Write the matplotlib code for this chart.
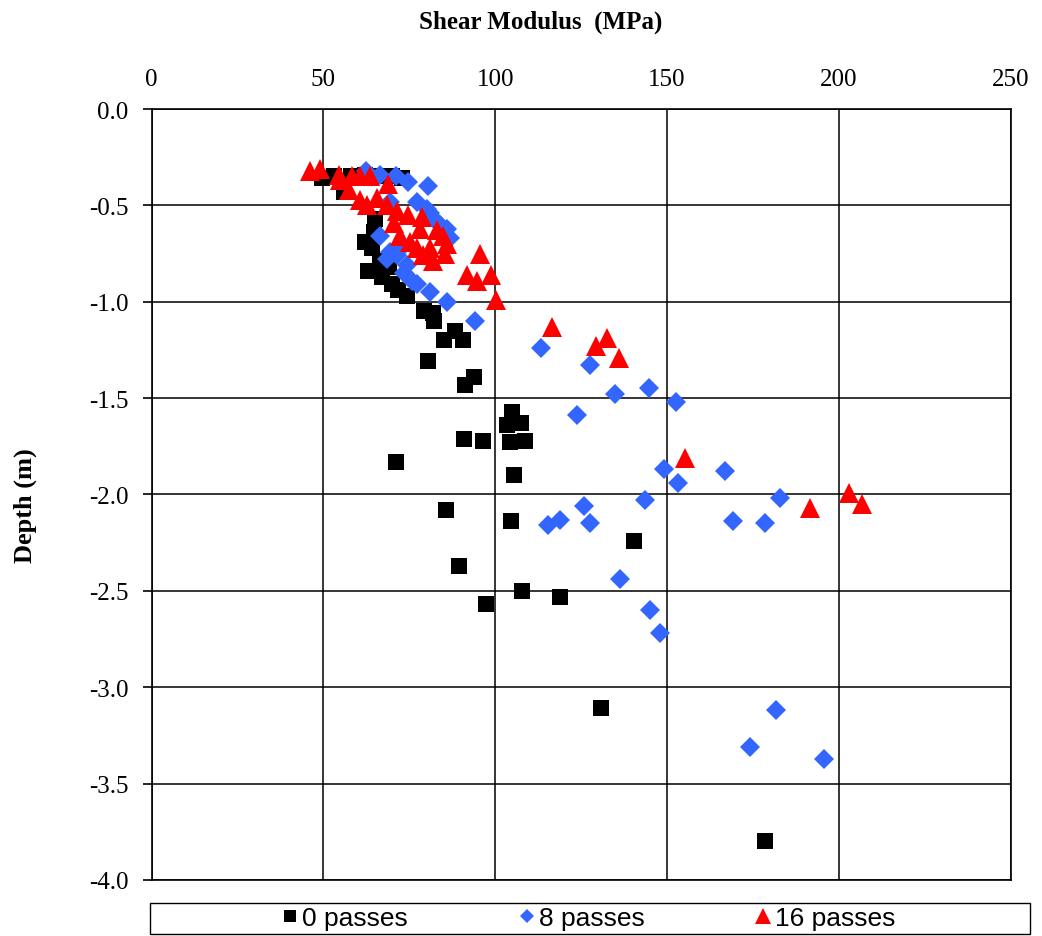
import matplotlib
matplotlib.use("Agg")
import matplotlib.pyplot as plt
from matplotlib.patches import Rectangle

# ---- data ------------------------------------------------------------------
g0_x = [49.5, 53, 58, 62, 66, 70, 73, 55.9, 65, 64.6, 62.1, 64.1, 63.1, 67.0,
        69.9, 71.8, 74.2, 79.4, 81.8, 82.3, 88.4, 85.2, 90.7, 80.3, 93.9, 91.3,
        104.9, 103.5, 107.5, 104.2, 108.6, 90.8, 96.5, 71.0, 105.4, 85.6, 104.6,
        140.3, 89.4, 97.3, 107.8, 118.8, 130.7, 178.4, 66.5, 69.0]
g0_y = [-0.36, -0.35, -0.35, -0.34, -0.35, -0.35, -0.36, -0.43, -0.57, -0.64,
        -0.69, -0.72, -0.84, -0.87, -0.91, -0.94, -0.97, -1.05, -1.06, -1.10,
        -1.15, -1.20, -1.20, -1.31, -1.39, -1.43, -1.57, -1.64, -1.63, -1.73,
        -1.72, -1.71, -1.72, -1.83, -1.90, -2.08, -2.14, -2.24, -2.37, -2.57,
        -2.50, -2.53, -3.11, -3.80, -0.79, -0.82]

g8_x = [62.5, 66.5, 71.0, 74.5, 80.3, 69.4, 77.1, 80.0, 81.0, 83.4, 83.9, 85.9,
        86.8, 66.5, 68.4, 71.3, 74.2, 73.3, 75.7, 77.2, 81.0, 85.9, 94.1, 69.5,
        72.0, 113.2, 127.5, 144.7, 134.8, 152.7, 123.8, 149.0, 166.8, 153.2,
        143.5, 182.8, 169.2, 178.4, 125.8, 127.5, 118.8, 115.3, 136.2, 145.0,
        148.0, 181.8, 174.0, 195.6]
g8_y = [-0.32, -0.34, -0.35, -0.38, -0.40, -0.48, -0.48, -0.52, -0.54, -0.59,
        -0.60, -0.62, -0.67, -0.66, -0.78, -0.76, -0.81, -0.85, -0.89, -0.91,
        -0.95, -1.00, -1.10, -0.74, -0.73, -1.24, -1.33, -1.45, -1.48, -1.52,
        -1.59, -1.87, -1.88, -1.94, -2.03, -2.02, -2.14, -2.15, -2.06, -2.15,
        -2.13, -2.16, -2.44, -2.60, -2.72, -3.12, -3.31, -3.37]

g16_x = [46.0, 48.9, 54.4, 54.9, 58.3, 60.7, 63.6, 57.3, 60.7, 62.6, 68.9, 65.5,
         68.4, 71.3, 74.7, 70.4, 78.6, 78.1, 72.3, 83.0, 84.9, 85.9, 79.1, 82.0,
         85.4, 81.0, 77.1, 75.2, 95.5, 91.7, 94.8, 98.7, 100.2, 116.6, 132.6,
         129.3, 136.0, 155.1, 191.7, 202.9, 206.7]
g16_y = [-0.32, -0.31, -0.34, -0.37, -0.35, -0.35, -0.35, -0.42, -0.47, -0.50,
         -0.39, -0.46, -0.50, -0.53, -0.55, -0.59, -0.56, -0.62, -0.66, -0.63,
         -0.66, -0.70, -0.76, -0.79, -0.75, -0.72, -0.72, -0.69, -0.75, -0.86,
         -0.89, -0.86, -0.99, -1.13, -1.19, -1.23, -1.29, -1.81, -2.07, -1.99,
         -2.05]

x_ticks = [0, 50, 100, 150, 200, 250]
y_ticks = [0.0, -0.5, -1.0, -1.5, -2.0, -2.5, -3.0, -3.5, -4.0]

SERIF = ["Liberation Serif", "DejaVu Serif"]
SANS = ["Liberation Sans", "DejaVu Sans"]

fig = plt.figure(figsize=(10.42, 9.37), dpi=100)
ax = fig.add_axes([0.1455, 0.0598, 0.8245, 0.8228])

ax.plot(g0_x, g0_y, "s", color="black", markersize=11, markeredgewidth=0,
        linestyle="none", label="0 passes", zorder=3)
ax.plot(g8_x, g8_y, "D", color="#3366FF", markersize=10, markeredgewidth=0,
        linestyle="none", label="8 passes", zorder=4)
ax.plot(g16_x, g16_y, "^", color="#FF0000", markersize=15, markeredgewidth=0,
        linestyle="none", label="16 passes", zorder=5)

ax.set_xlim(0, 250)
ax.set_ylim(-4.0, 0.0)
ax.set_xticks(x_ticks)
ax.set_yticks(y_ticks)
ax.set_xticklabels([str(v) for v in x_ticks], family=SERIF, fontsize=18)
ax.set_yticklabels([f"{v:.1f}" for v in y_ticks], family=SERIF, fontsize=18)
ax.xaxis.tick_top()
ax.tick_params(axis="x", length=0, pad=14)
ax.tick_params(axis="y", length=6.5, width=1.2, pad=10, direction="out")
ax.grid(True, color="black", linewidth=1.1)
ax.set_axisbelow(True)
for s in ax.spines.values():
    s.set_color("black")
    s.set_linewidth(1.2)

fig.text(541 / 1042, 1 - 22 / 937, "Shear Modulus  (MPa)", family=SERIF,
         fontsize=18, fontweight="bold", ha="center", va="center")
fig.text(25 / 1042, 1 - 506 / 937, "Depth (m)", family=SERIF, fontsize=19,
         fontweight="bold", ha="center", va="center", rotation=90)

# legend box spanning the bottom
fig.patches.append(Rectangle((150 / 1042, 1 - 935 / 937), 880 / 1042, 31 / 937,
                             transform=fig.transFigure, fill=False,
                             edgecolor="black", linewidth=1.0))
leg = fig.legend(loc="center", bbox_to_anchor=(589 / 1042, 1 - 919.5 / 937),
                 ncol=3, frameon=False, prop={"family": SANS, "size": 19},
                 handlelength=0.6, handletextpad=0.15, columnspacing=4.2,
                 markerscale=0.75)

fig.savefig("out.png", dpi=100)
